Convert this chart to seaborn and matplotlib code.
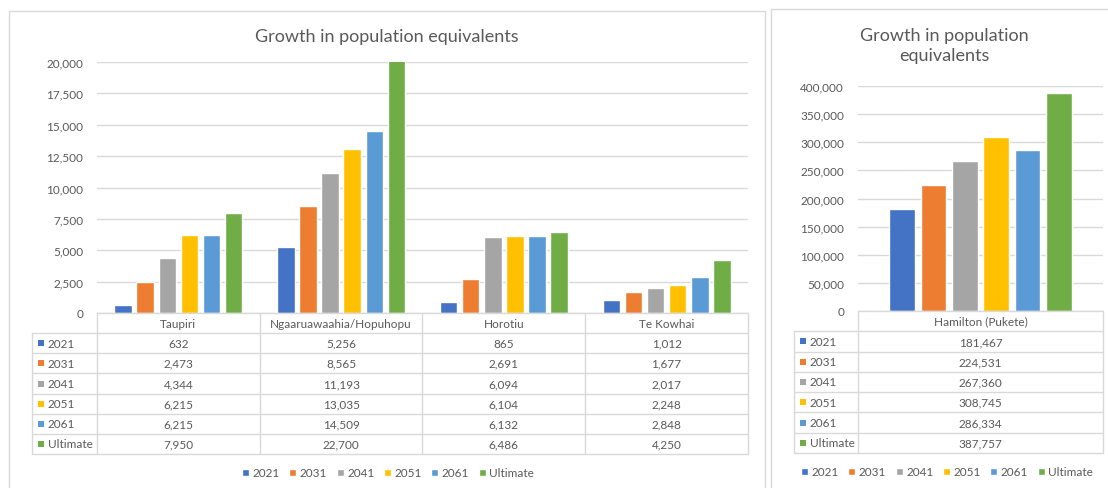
import numpy as np
import pandas as pd
import matplotlib
matplotlib.use("Agg")
import matplotlib.pyplot as plt
import seaborn as sns
from matplotlib.patches import Rectangle

# ---------------- data ----------------
series = ["2021", "2031", "2041", "2051", "2061", "Ultimate"]
colors = ["#4472C4", "#ED7D31", "#A5A5A5", "#FFC000", "#5B9BD5", "#70AD47"]

left_categories = ["Taupiri", "Ngaaruawaahia/Hopuhopu", "Horotiu", "Te Kowhai"]
left_2021 = [632, 5256, 865, 1012]
left_2031 = [2473, 8565, 2691, 1677]
left_2041 = [4344, 11193, 6094, 2017]
left_2051 = [6215, 13035, 6104, 2248]
left_2061 = [6215, 14509, 6132, 2848]
left_ultimate = [7950, 22700, 6486, 4250]

right_categories = ["Hamilton (Pukete)"]
right_2021 = [181467]
right_2031 = [224531]
right_2041 = [267360]
right_2051 = [308745]
right_2061 = [286334]
right_ultimate = [387757]

title_text = "Growth in population equivalents"
left_yticks = [0, 2500, 5000, 7500, 10000, 12500, 15000, 17500, 20000]
right_yticks = [0, 50000, 100000, 150000, 200000, 250000, 300000, 350000, 400000]

# ---------------- style ----------------
sns.set_theme(style="white")
plt.rcParams["font.family"] = ["Lato", "DejaVu Sans"]
TXT = "#595959"
GRID = "#D9D9D9"
LINE = "#D9D9D9"

W, H = 1108, 489
fig = plt.figure(figsize=(W / 100, H / 100), dpi=100)


def px_axes(x0, y0, x1, y1):
    """axes from pixel box (top-left origin)"""
    return fig.add_axes([x0 / W, 1 - y1 / H, (x1 - x0) / W, (y1 - y0) / H])


def long_df(cats, cols):
    rows = []
    for s, vals in zip(series, cols):
        for c, v in zip(cats, vals):
            rows.append({"cat": c, "series": s, "value": v})
    return pd.DataFrame(rows)


# panel borders
fig.patches.append(Rectangle((9 / W, -0.05), (765 - 9) / W, 1.05 - 12 / H,
                             transform=fig.transFigure, fill=False,
                             edgecolor="#D9D9D9", linewidth=1.0))
fig.patches.append(Rectangle((771 / W, -0.05), (1120 - 771) / W, 1.05 - 10 / H,
                             transform=fig.transFigure, fill=False,
                             edgecolor="#D9D9D9", linewidth=1.0))


def draw_panel(ax_box, tbl_box, label_w_px, cats, cols, yticks, ymax,
               width, gap, title_xy, title_lines, legend_xy):
    x0, y0, x1, y1 = ax_box
    ax = px_axes(*ax_box)
    df = long_df(cats, cols)
    sns.barplot(data=df, x="cat", y="value", hue="series", order=cats,
                hue_order=series, palette=colors, width=width, gap=gap,
                saturation=1, ax=ax, errorbar=None, legend=True)
    ax.set_ylim(0, ymax)
    ax.set_xlim(-0.5, len(cats) - 0.5)
    ax.set_yticks(yticks)
    ax.set_yticklabels([f"{v:,}" for v in yticks])
    ax.tick_params(axis="y", length=0, pad=10, labelsize=8.5, labelcolor=TXT)
    ax.set_xticks([])
    ax.set_xlabel("")
    ax.set_ylabel("")
    for sp in ax.spines.values():
        sp.set_visible(False)
    ax.yaxis.grid(True, color=GRID, linewidth=1.0)
    ax.set_axisbelow(True)
    handles, labels = ax.get_legend_handles_labels()
    ax.get_legend().remove()

    # ---- data table ----
    tx0, ty0, tx1, ty1 = tbl_box
    unit_px = (x1 - x0) / len(cats)
    lab_w = label_w_px / unit_px
    tax = px_axes(tx0, ty0, tx1, ty1)
    tax.set_xlim(-0.5 - lab_w, len(cats) - 0.5)
    nrows = len(series) + 1
    tax.set_ylim(nrows, 0)
    tax.axis("off")
    left = -0.5 - lab_w
    right = len(cats) - 0.5
    lw = 1.0
    tax.plot([-0.5, right], [0, 0], color=LINE, lw=lw, clip_on=False)
    for r in range(1, nrows + 1):
        tax.plot([left, right], [r, r], color=LINE, lw=lw, clip_on=False)
    tax.plot([left, left], [1, nrows], color=LINE, lw=lw, clip_on=False)
    for c in range(len(cats) + 1):
        xc = -0.5 + c
        tax.plot([xc, xc], [0, nrows], color=LINE, lw=lw, clip_on=False)
    for i, c in enumerate(cats):
        tax.text(i, 0.5, c, ha="center", va="center", fontsize=8.5, color=TXT)
    for r, (s, col, vals) in enumerate(zip(series, colors, cols)):
        yc = r + 1.5
        tax.scatter([left + 8.5 / unit_px], [yc], marker="s", s=24,
                    color=col, clip_on=False, linewidths=0)
        tax.text(left + 16 / unit_px, yc, s, ha="left", va="center",
                 fontsize=8.5, color=TXT)
        for i, v in enumerate(vals):
            tax.text(i, yc, f"{v:,}", ha="center", va="center",
                     fontsize=8.5, color=TXT)

    fig.text(title_xy[0] / W, 1 - title_xy[1] / H, title_lines, ha="center",
             va="center", fontsize=13, color=TXT, linespacing=1.25)

    fig.legend(handles, labels, loc="center",
               bbox_to_anchor=(legend_xy[0] / W, 1 - legend_xy[1] / H),
               ncol=6, frameon=False, fontsize=8.5, labelcolor=TXT,
               handlelength=0.6, handleheight=0.6, handletextpad=0.3,
               columnspacing=0.8, borderaxespad=0)
    return ax


draw_panel((97, 63, 748, 314), (32, 314, 748, 455), 65,
           left_categories,
           [left_2021, left_2031, left_2041, left_2051, left_2061, left_ultimate],
           left_yticks, 20000, 0.815, 0.21,
           (387, 37), title_text, (388, 474))

draw_panel((858, 87, 1103, 312), (794, 312, 1103, 454), 64,
           right_categories,
           [right_2021, right_2031, right_2041, right_2051, right_2061, right_ultimate],
           right_yticks, 400000, 0.767, 0.18,
           (944, 46), "Growth in population\nequivalents", (947, 473))

fig.savefig("out.png", dpi=100, facecolor="white")
